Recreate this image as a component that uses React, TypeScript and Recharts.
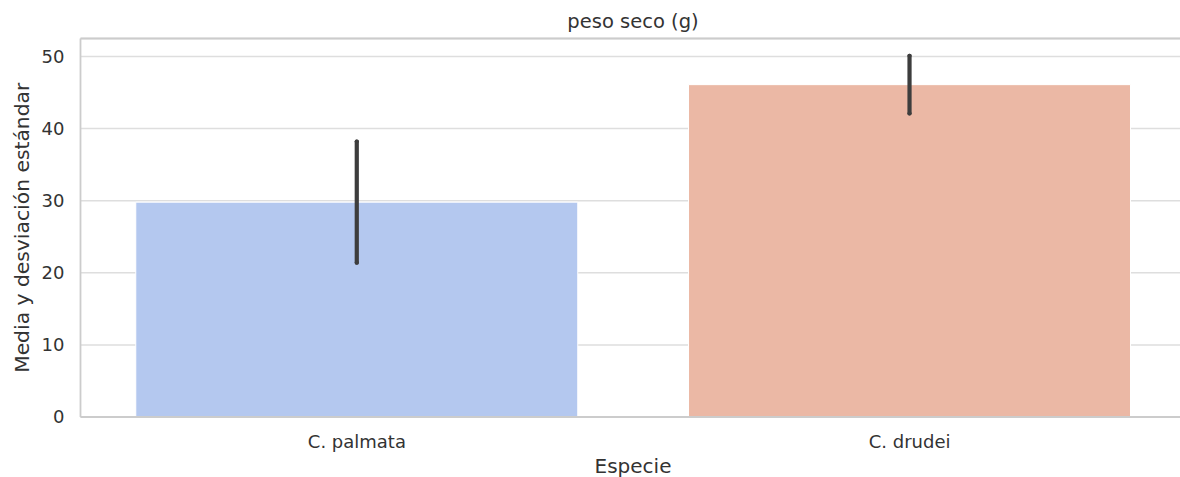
import React from "react";
import {
  BarChart,
  Bar,
  XAxis,
  YAxis,
  CartesianGrid,
  ErrorBar,
  Cell,
  ReferenceLine,
} from "recharts";

const categories = ["C. palmata", "C. drudei"];
const means = [29.8, 46.1];
const sds = [8.4, 4.0];
const colors = ["#b4c8ef", "#ebb8a5"];
const yTicks = [0, 10, 20, 30, 40, 50];
const title = "peso seco (g)";
const xLabel = "Especie";
const yLabel = "Media y desviación estándar";

const data = categories.map((c, i) => ({ name: c, mean: means[i], sd: sds[i] }));

const FONT = "DejaVu Sans";
const TXT = "#333333";

export default function App() {
  return (
    <div
      style={{
        position: "absolute",
        left: 0,
        top: 0,
        width: 1180,
        height: 477,
        overflow: "hidden",
        background: "#fff",
        fontFamily: FONT,
      }}
    >
      <div
        style={{
          position: "absolute",
          left: 0,
          top: 10,
          width: 1180,
          textAlign: "center",
          paddingLeft: 86,
          boxSizing: "border-box",
          fontSize: 19.5,
          color: TXT,
          lineHeight: "24px",
        }}
      >
        {title}
      </div>
      <BarChart
        width={1186}
        height={477}
        data={data}
        margin={{ top: 38.5, right: 0, bottom: 30, left: 0 }}
        barCategoryGap="10%"
      >
        <CartesianGrid vertical={false} stroke="#dedede" strokeWidth={1.5} />
        <XAxis
          dataKey="name"
          height={30}
          tickLine={false}
          axisLine={{ stroke: "#cccccc", strokeWidth: 1.8 }}
          tick={{ fontSize: 18, fill: TXT, fontFamily: FONT }}
          tickMargin={12}
        />
        <YAxis
          width={80.5}
          domain={[0, 52.5]}
          ticks={yTicks}
          tickLine={false}
          tickSize={0}
          tickMargin={16}
          axisLine={{ stroke: "#cccccc", strokeWidth: 1.8 }}
          tick={{ fontSize: 18, fill: TXT, fontFamily: FONT }}
          label={{
            value: yLabel,
            angle: -90,
            position: "insideLeft",
            offset: 22,
            style: { textAnchor: "middle" },
            fontSize: 20.3,
            fill: TXT,
            fontFamily: FONT,
          }}
        />
        <ReferenceLine y={52.5} stroke="#cccccc" strokeWidth={1.8} ifOverflow="visible" />
        <Bar dataKey="mean" isAnimationActive={false} stroke="#ffffff" strokeWidth={1}>
          {data.map((d, i) => (
            <Cell key={d.name} fill={colors[i]} />
          ))}
          <ErrorBar
            dataKey="sd"
            width={0}
            strokeWidth={4.2}
            stroke="#3d3d3d"
            direction="y"
            strokeLinecap="round"
            isAnimationActive={false}
          />
        </Bar>
      </BarChart>
      <div
        style={{
          position: "absolute",
          left: 0,
          top: 454,
          width: 1180,
          textAlign: "center",
          paddingLeft: 86,
          boxSizing: "border-box",
          fontSize: 20,
          color: TXT,
          lineHeight: "24px",
        }}
      >
        {xLabel}
      </div>
    </div>
  );
}
